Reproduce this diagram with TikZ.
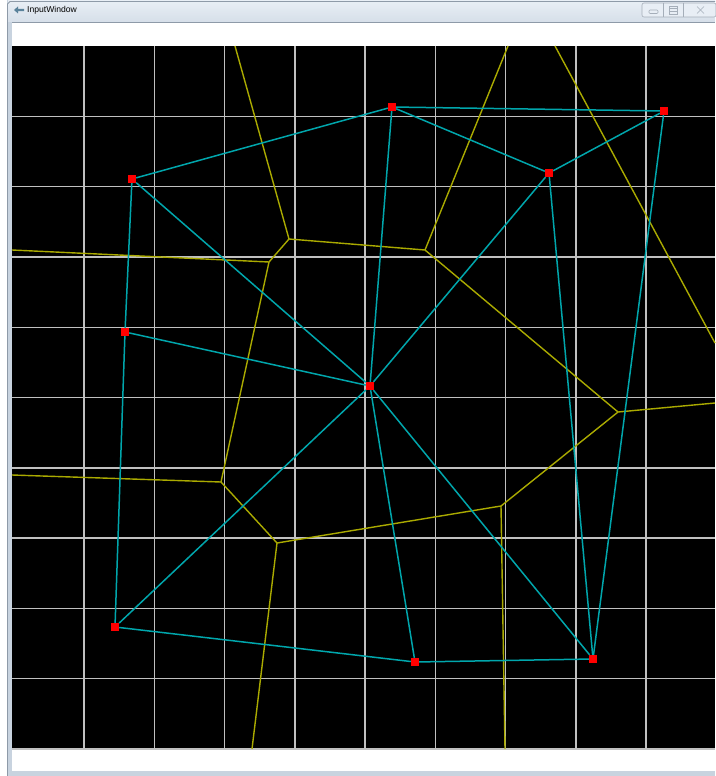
\documentclass[tikz,border=0pt]{standalone}
\usepackage{fontspec}
\setsansfont{Liberation Sans}
\usetikzlibrary{positioning}
\definecolor{FrameBlue}{RGB}{200, 211, 223}
\definecolor{TitleTop}{RGB}{232, 238, 245}
\definecolor{TitleBottom}{RGB}{214, 223, 233}
\definecolor{FrameLine}{RGB}{142, 154, 168}
\definecolor{GridGray}{RGB}{192, 192, 192}
\definecolor{DelCyan}{RGB}{0, 166, 172}
\definecolor{VorYellow}{RGB}{170, 170, 0}
\definecolor{SiteRed}{RGB}{255, 0, 0}
\definecolor{IconBlue}{RGB}{90, 130, 155}

\begin{document}
\begin{tikzpicture}[
    x=1pt, y=-1pt,
    site/.style={rectangle, fill=SiteRed, minimum size=8pt, inner sep=0pt},
    delaunay/.style={draw=DelCyan, line width=1.5pt},
    voronoi/.style={draw=VorYellow, line width=1.4pt},
    gridline/.style={draw=GridGray, line width=1.4pt},
    winbutton/.style={draw=FrameLine!80, line width=0.6pt}
  ]
    \useasboundingbox (0,0) rectangle (715,776);

    % Marco de la ventana
    \fill[white] (0,0) rectangle (715,776);
    \fill[FrameBlue] (7,0) rectangle (715,776);
    \shade[top color=TitleTop, bottom color=TitleBottom] (8,1) rectangle (715,22);
    \draw[FrameLine, line width=0.8pt] (7.5,776) -- (7.5,4) -- (10,1.5) -- (715,1.5);
    \fill[white] (12,22) rectangle (715,771);
    \draw[FrameLine, line width=0.6pt] (12,22.5) -- (715,22.5);

    % Titulo
    \fill[IconBlue] (14,10) -- (18,6.5) -- (18,8.8) -- (24,8.8) -- (24,11.2) -- (18,11.2) -- (18,13.5) -- cycle;
    \node[font=\sffamily\fontsize{8.6}{10}\selectfont, anchor=west, inner sep=0pt] (title) at (27,10) {InputWindow};

    % Botones
    \draw[winbutton, rounded corners=2pt, fill=TitleTop] (642,3) rectangle (716,17);
    \draw[winbutton] (663,3) -- (663,17);
    \draw[winbutton] (683,3) -- (683,17);
    \draw[winbutton, rounded corners=1pt] (649,10) rectangle (658,13.5);
    \draw[winbutton] (669,6) rectangle (677,14.5);
    \draw[winbutton] (669,8.8) -- (677,8.8);
    \draw[winbutton] (669,11.6) -- (677,11.6);
    \draw[winbutton] (697,6.5) -- (704,13.5);
    \draw[winbutton] (697,13.5) -- (704,6.5);

    % Lienzo y cuadricula
    \fill[black] (12,46) rectangle (715,749);
    \foreach \k in {1,...,9}
      \draw[gridline] ({13.8+70.25*\k},46) -- ({13.8+70.25*\k},749);
    \foreach \k in {1,...,10}
      \draw[gridline] (12,{46+70.3*\k}) -- (715,{46+70.3*\k});

    % Vertices de Voronoi
    \coordinate (v1) at (289,239);
    \coordinate (v2) at (425,250);
    \coordinate (v3) at (269,262);
    \coordinate (v4) at (618,412);
    \coordinate (v5) at (221,482);
    \coordinate (v6) at (277,543);
    \coordinate (v7) at (501,506);
    % Cortes con el borde
    \coordinate (b1) at (235,46);
    \coordinate (b2) at (508,46);
    \coordinate (b3) at (12,250);
    \coordinate (b4) at (12,475);
    \coordinate (b5) at (252,749);
    \coordinate (b6) at (505,749);
    \coordinate (b7) at (715,403);
    \coordinate (b8) at (555,46);
    \coordinate (b9) at (715,343);

    % Aristas de Voronoi
    \foreach \a/\b in {v1/b1, v1/v2, v1/v3, v2/b2, v2/v4, v3/b3, v3/v5, v5/b4,
                       v5/v6, v6/b5, v6/v7, v7/b6, v7/v4, v4/b7, b8/b9}
      \draw[voronoi] (\a) -- (\b);

    % Puntos
    \node[site] (p1) at (392,107) {};
    \node[site] (p2) at (664,111) {};
    \node[site] (p3) at (549,173) {};
    \node[site] (p4) at (132,179) {};
    \node[site] (p5) at (125,332) {};
    \node[site] (p6) at (370,386) {};
    \node[site] (p7) at (115,627) {};
    \node[site] (p8) at (415,662) {};
    \node[site] (p9) at (593,659) {};

    % Triangulacion de Delaunay
    \foreach \a/\b in {p4/p1, p1/p2, p1/p3, p3/p2, p1/p6, p4/p6, p4/p5, p5/p6, p5/p7,
                       p7/p6, p7/p8, p8/p9, p8/p6, p6/p9, p6/p3, p3/p9, p2/p9}
      \draw[delaunay] (\a) -- (\b);
  \end{tikzpicture}
\end{document}
